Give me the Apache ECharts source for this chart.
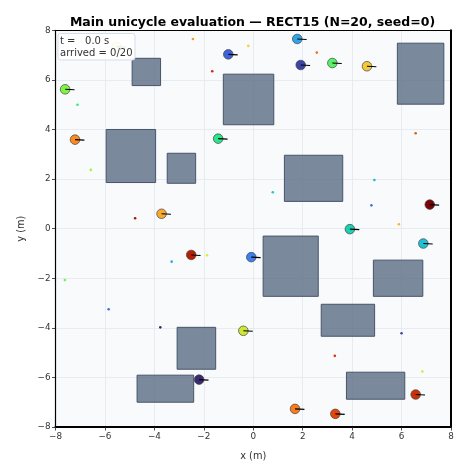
<!DOCTYPE html>
<html><head><meta charset="utf-8">
<style>html,body{margin:0;padding:0;background:#fff}#c{width:472px;height:472px}</style>
<script src="https://cdn.jsdelivr.net/npm/echarts@6/dist/echarts.min.js"></script>
</head><body><div id="c"></div>
<script>
const titleText = 'Main unicycle evaluation — RECT15 (N=20, seed=0)';
const statusText = 't =   0.0 s\narrived = 0/20';
const axisTicks = [-8,-6,-4,-2,0,2,4,6,8];
// [xMin, xMax, yMin, yMax]
const obstacles = [
 [-4.9,-3.75,5.77,6.87],[-1.21,0.83,4.19,6.23],[-5.95,-3.95,1.86,4.0],[-3.48,-2.33,1.83,3.04],
 [5.83,7.71,5.02,7.48],[1.26,3.62,1.1,2.96],[0.4,2.63,-2.73,-0.3],[4.86,6.86,-2.73,-1.27],
 [2.75,4.91,-4.34,-3.05],[3.77,6.13,-6.88,-5.79],[-3.08,-1.52,-5.67,-3.98],[-4.7,-2.41,-7.0,-5.91]
];
const agents = [
 [-7.61,5.62],[-7.21,3.59],[-1.42,3.63],[-3.71,0.60],[-1.01,7.03],[1.78,7.65],[1.92,6.60],
 [3.2,6.68],[4.6,6.55],[7.14,0.97],[3.91,-0.02],[6.88,-0.6],[-0.08,-1.15],[-2.51,-1.06],
 [-2.19,-6.09],[-0.4,-4.12],[1.69,-7.27],[3.32,-7.47],[6.57,-6.69],[-5.53,7.34]
];
const agentColors = ['#7ef542','#fb8a22','#2be58d','#f8a92f','#3f63d8','#2fa4ea','#3b46a8',
 '#5bf06a','#f1c93a','#7a0403','#1bd0b0','#1fc2d5','#3e7ff0','#b81e05',
 '#3a2a70','#cfe82f','#fb7a1c','#e4460a','#cc3005','#c8f03a'];
const goals = [
 [-2.44,7.65],[-1.66,6.35],[-7.11,5.0],[-6.57,2.37],[-4.78,0.42],[-0.2,7.37],[2.57,7.1],
 [6.57,3.85],[4.9,1.96],[0.79,1.47],[4.78,0.94],[5.89,0.18],[-3.3,-1.33],[-1.87,-1.07],
 [-7.62,-2.07],[-5.85,-3.25],[-3.76,-3.98],[6.0,-4.22],[3.3,-5.13],[6.84,-5.76]
];
const goalColors = ['#fb9a2a','#d42a08','#2bf07a','#9cf53a','#a01a05','#f1d03a','#fb6a1c',
 '#d8600f','#1fb8d8','#1bd0b0','#3e6ff0','#f8b52f','#2fa4ea','#d6ee30',
 '#6ef550','#3e6fe0','#30305f','#3b46a8','#e03008','#c0f03a'];
const headingLength = 0.38, headingDrop = -0.02;

const font = 'DejaVu Sans';
const headingPts = [];
agents.forEach(a => headingPts.push(a, [a[0]+headingLength, a[1]+headingDrop], [null,null]));
const fmt = v => String(v).replace('-', '\u2212');
const edge = (position, width) => ({type:'value',position,min:-8,max:8,interval:2,
  axisLine:{show:true,onZero:false,lineStyle:{color:'#000',width}},
  axisTick:{show:false},axisLabel:{show:false},splitLine:{show:false}});
const main = (name, gap, pos, rot) => ({type:'value',position:pos,min:-8,max:8,interval:2,
  name,nameLocation:'middle',nameGap:gap,nameRotate:rot,
  nameTextStyle:{fontFamily:font,fontSize:9.8,color:'#333'},
  axisLine:{show:true,onZero:false,lineStyle:{color:'#000',width:2}},
  axisTick:{show:true,length:3.5,lineStyle:{color:'#222',width:0.8}},
  axisLabel:{fontFamily:font,fontSize:8.8,color:'#333',margin:5,formatter:fmt,
    customValues:axisTicks,hideOverlap:false},
  splitLine:{show:true,lineStyle:{color:'#e2e8f0',width:0.8}}});
const x0 = main('x (m)',24,'bottom',0);
const y0 = main('y (m)',22.5,'left',90);
y0.axisLine.lineStyle.width = 1.2;

const chart = echarts.init(document.getElementById('c'),null,{renderer:'canvas'});
chart.setOption({
  animation:false,backgroundColor:'#fff',
  title:{text:titleText,left:247.5,top:11.5,textAlign:'center',
    textStyle:{fontFamily:font,fontSize:12.5,fontWeight:'bold',color:'#000'}},
  grid:{left:55.5,right:21,top:30.3,bottom:45,show:true,backgroundColor:'#f8fafc',borderWidth:0},
  xAxis:[x0,edge('top',1.2)],
  yAxis:[y0,edge('right',2)],
  series:[
   {type:'custom',z:2,clip:true,data:obstacles,encode:{x:[0,1],y:[2,3]},
    renderItem:(p,api)=>{
      const a=api.coord([api.value(0),api.value(3)]),b=api.coord([api.value(1),api.value(2)]);
      return {type:'rect',shape:{x:a[0],y:a[1],width:b[0]-a[0],height:b[1]-a[1]},
        style:{fill:'rgba(100,116,139,0.85)',stroke:'#475569',lineWidth:1}};
    }},
   {type:'scatter',z:3,symbolSize:2.6,silent:true,
    data:goals.map((g,i)=>({value:g,itemStyle:{color:goalColors[i],opacity:1}}))},
   {type:'scatter',z:4,symbolSize:9.6,silent:true,
    data:agents.map((a,i)=>({value:a,itemStyle:{color:agentColors[i],opacity:1,borderColor:'#444',borderWidth:0.7}}))},
   {type:'line',z:5,data:headingPts,showSymbol:false,symbol:'none',connectNulls:false,silent:true,
    lineStyle:{color:'#000',width:1.1}}
  ],
  graphic:[
   {type:'rect',z:100,shape:{x:58,y:33.5,width:77,height:26.5,r:2.5},
    style:{fill:'rgba(255,255,255,0.93)',stroke:'#d5dde8',lineWidth:1}},
   {type:'text',z:101,x:60,y:36,style:{text:statusText,fontFamily:font,fontSize:10,lineHeight:11.5,fill:'#333'}}
  ]
});
</script></body></html>
